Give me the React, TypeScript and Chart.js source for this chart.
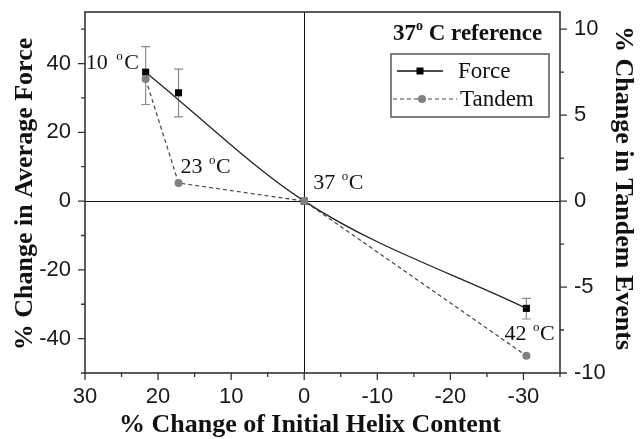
import React, { useEffect, useRef } from 'react';
import { Chart, registerables } from 'chart.js';

Chart.register(...registerables);

// ---- data ----
const helixChange = [21.7, 17.2, 0, -30.4];          // % change of initial helix content
const forceChange = [37.5, 31.5, 0, -31.2];          // % change in average force (left axis)
const forceErrHigh = [44.9, 38.4, null, -28.3];
const forceErrLow = [28.1, 24.5, null, -34.3];
const tandemChange = [7.1, 1.05, 0, -9.0];           // % change in tandem events (right axis)
const tempLabels = ['10', '23', '37', '42'];
const forceCurveIdx = [0, 2, 3];                     // points the smooth Force curve passes through

const xTicksMajor = [30, 20, 10, 0, -10, -20, -30];
const xTicksMinor = [25, 15, 5, -5, -15, -25, -35];
const yTicksMajor = [40, 20, 0, -20, -40];
const yTicksMinor = [50, 30, 10, -10, -30, -50];
const y2TicksMajor = [10, 5, 0, -5, -10];
const y2TicksMinor = [7.5, 2.5, -2.5, -7.5];

const SERIF = '"Liberation Serif", "Times New Roman", serif';
const SANS = '"Liberation Sans", Arial, sans-serif';

function drawDegText(
  ctx: CanvasRenderingContext2D, pre: string, post: string,
  x: number, y: number, size: number, bold: boolean, gap = 0
) {
  const w = bold ? 'bold ' : '';
  ctx.font = `${w}${size}px ${SERIF}`;
  ctx.textAlign = 'left';
  ctx.textBaseline = 'alphabetic';
  ctx.fillText(pre, x, y);
  let cx = x + ctx.measureText(pre).width + gap;
  ctx.font = `${w}${Math.round(size * 0.6)}px ${SERIF}`;
  ctx.fillText('o', cx, y - size * 0.42);
  cx += ctx.measureText('o').width + gap * 0.5;
  ctx.font = `${w}${size}px ${SERIF}`;
  ctx.fillText(post, cx, y);
}

const overlayPlugin = {
  id: 'overlay',
  beforeDatasetsDraw(chart: any) {
    const { ctx, chartArea: a, scales } = chart;
    const xs = scales.x, ys = scales.y;
    ctx.save();
    ctx.strokeStyle = '#111';
    ctx.lineWidth = 1;
    const x0 = Math.round(xs.getPixelForValue(0)) + 0.5;
    const y0 = Math.round(ys.getPixelForValue(0)) + 0.5;
    ctx.beginPath();
    ctx.moveTo(x0, a.top); ctx.lineTo(x0, a.bottom);
    ctx.moveTo(a.left, y0); ctx.lineTo(a.right, y0);
    ctx.stroke();
    ctx.strokeStyle = '#8a8a8a';
    ctx.lineWidth = 1.2;
    for (let i = 0; i < helixChange.length; i++) {
      const hi = forceErrHigh[i], lo = forceErrLow[i];
      if (hi == null || lo == null) continue;
      const px = xs.getPixelForValue(helixChange[i]);
      const pHi = ys.getPixelForValue(hi), pLo = ys.getPixelForValue(lo);
      ctx.beginPath();
      ctx.moveTo(px, pHi); ctx.lineTo(px, pLo);
      ctx.moveTo(px - 4.5, pHi); ctx.lineTo(px + 4.5, pHi);
      ctx.moveTo(px - 4.5, pLo); ctx.lineTo(px + 4.5, pLo);
      ctx.stroke();
    }
    ctx.restore();
  },
  afterDraw(chart: any) {
    const { ctx, chartArea: a, scales } = chart;
    const xs = scales.x, ys = scales.y, y2 = scales.y2;
    ctx.save();
    ctx.strokeStyle = '#333';
    ctx.lineWidth = 1.6;
    ctx.strokeRect(a.left, a.top, a.right - a.left, a.bottom - a.top);
    ctx.lineWidth = 1.3;
    ctx.beginPath();
    const tick = (x1: number, y1: number, x2: number, y2p: number) => { ctx.moveTo(x1, y1); ctx.lineTo(x2, y2p); };
    xTicksMajor.forEach(v => { const p = xs.getPixelForValue(v); tick(p, a.bottom, p, a.bottom + 7); });
    xTicksMinor.forEach(v => { const p = xs.getPixelForValue(v); tick(p, a.bottom, p, a.bottom + 4); });
    yTicksMajor.forEach(v => { const p = ys.getPixelForValue(v); tick(a.left, p, a.left - 7, p); });
    yTicksMinor.forEach(v => { const p = ys.getPixelForValue(v); tick(a.left, p, a.left - 4, p); });
    y2TicksMajor.forEach(v => { const p = y2.getPixelForValue(v); tick(a.right, p, a.right + 7, p); });
    y2TicksMinor.forEach(v => { const p = y2.getPixelForValue(v); tick(a.right, p, a.right + 4, p); });
    ctx.stroke();

    ctx.fillStyle = '#111';
    ctx.font = `bold 26px ${SERIF}`;
    ctx.textAlign = 'center';
    ctx.textBaseline = 'middle';
    ctx.fillText('% Change of Initial Helix Content', 310, 425);
    ctx.save();
    ctx.translate(25, 194);
    ctx.rotate(-Math.PI / 2);
    ctx.fillText('% Change in Average Force', 0, 0);
    ctx.restore();
    ctx.save();
    ctx.translate(623, 188);
    ctx.rotate(Math.PI / 2);
    ctx.fillText('% Change in Tandem Events', 0, 0);
    ctx.restore();

    const fx = (i: number) => xs.getPixelForValue(helixChange[i]);
    const fy = (i: number) => ys.getPixelForValue(forceChange[i]);
    const ty = (i: number) => y2.getPixelForValue(tandemChange[i]);
    drawDegText(ctx, tempLabels[0] + ' ', 'C', fx(0) - 60, fy(0) - 3, 22, false, 3);
    drawDegText(ctx, tempLabels[1] + ' ', 'C', fx(1) + 2, ty(1) - 10, 22, false, 1);
    drawDegText(ctx, tempLabels[2] + ' ', 'C', fx(2) + 9, fy(2) - 12, 22, false, 1);
    drawDegText(ctx, tempLabels[3] + ' ', 'C', fx(3) - 22, ty(3) - 16, 22, false, 1);

    drawDegText(ctx, '37', ' C reference', 393, 40, 23, true);

    const L = 391, T = 54, R = 549, B = 117;
    ctx.strokeStyle = '#555';
    ctx.lineWidth = 1.5;
    ctx.strokeRect(L, T, R - L, B - T);
    ctx.strokeStyle = '#111';
    ctx.lineWidth = 1.5;
    ctx.beginPath(); ctx.moveTo(397, 71); ctx.lineTo(443, 71); ctx.stroke();
    ctx.fillStyle = '#000';
    ctx.fillRect(420 - 3.5, 71 - 3.5, 7, 7);
    ctx.strokeStyle = '#444';
    ctx.lineWidth = 1.2;
    ctx.setLineDash([4, 3]);
    ctx.beginPath(); ctx.moveTo(393, 99); ctx.lineTo(457, 99); ctx.stroke();
    ctx.setLineDash([]);
    ctx.fillStyle = '#808080';
    ctx.beginPath(); ctx.arc(422, 99, 4, 0, Math.PI * 2); ctx.fill();
    ctx.fillStyle = '#111';
    ctx.font = `23px ${SERIF}`;
    ctx.textAlign = 'left';
    ctx.textBaseline = 'middle';
    ctx.fillText('Force', 458, 72);
    ctx.fillText('Tandem', 460, 100);
    ctx.restore();
  },
};

const noPadV = (w: number) => (s: any) => { s.width = w; s.paddingTop = 0; s.paddingBottom = 0; };
const noPadH = (h: number) => (s: any) => { s.height = h; s.paddingLeft = 0; s.paddingRight = 0; };

export default function App() {
  const ref = useRef<HTMLCanvasElement | null>(null);
  useEffect(() => {
    if (!ref.current) return;
    const forcePts = helixChange.map((x, i) => ({ x, y: forceChange[i] }));
    const curvePts = forceCurveIdx.map(i => ({ x: helixChange[i], y: forceChange[i] }));
    const tandemPts = helixChange.map((x, i) => ({ x, y: tandemChange[i] }));
    const tickFont = { family: SANS, size: 22 };
    const chart = new Chart(ref.current, {
      type: 'scatter',
      data: {
        datasets: [
          {
            label: 'Tandem',
            data: tandemPts,
            yAxisID: 'y2',
            showLine: true,
            borderColor: '#444',
            borderWidth: 1.2,
            borderDash: [4, 3],
            pointStyle: 'circle',
            pointRadius: 4,
            pointBackgroundColor: '#808080',
            pointBorderWidth: 0,
            tension: 0,
          } as any,
          {
            label: 'Force curve',
            data: curvePts,
            yAxisID: 'y',
            showLine: true,
            borderColor: '#222',
            borderWidth: 1.3,
            pointRadius: 0,
            cubicInterpolationMode: 'monotone',
          } as any,
          {
            label: 'Force',
            data: forcePts,
            yAxisID: 'y',
            showLine: false,
            pointStyle: 'rect',
            pointRadius: 5,
            pointBackgroundColor: '#000',
            pointBorderWidth: 0,
          } as any,
        ],
      },
      options: {
        animation: false,
        responsive: true,
        maintainAspectRatio: false,
        layout: { padding: { top: 12, left: 0, right: 0, bottom: 0 } },
        plugins: { legend: { display: false }, tooltip: { enabled: false } },
        scales: {
          x: {
            type: 'linear',
            reverse: true,
            min: -35,
            max: 30,
            grid: { display: true, drawOnChartArea: false, drawTicks: false },
            border: { display: false },
            ticks: {
              stepSize: 10,
              includeBounds: false,
              padding: 11,
              color: '#1a1a1a',
              font: tickFont,
              maxRotation: 0,
            },
            afterFit: noPadH(66),
          },
          y: {
            type: 'linear',
            position: 'left',
            min: -50,
            max: 55,
            grid: { display: true, drawOnChartArea: false, drawTicks: false },
            border: { display: false },
            ticks: {
              stepSize: 20,
              includeBounds: false,
              padding: 14,
              color: '#1a1a1a',
              font: tickFont,
            },
            afterFit: noPadV(85),
          },
          y2: {
            type: 'linear',
            position: 'right',
            min: -10,
            max: 11,
            grid: { display: true, drawOnChartArea: false, drawTicks: false },
            border: { display: false },
            ticks: {
              stepSize: 5,
              includeBounds: false,
              padding: 14,
              color: '#1a1a1a',
              font: tickFont,
            },
            afterFit: noPadV(82),
          },
        },
      } as any,
      plugins: [overlayPlugin],
    });
    return () => chart.destroy();
  }, []);

  return (
    <div style={{ position: 'fixed', left: 0, top: 0, width: 642, height: 439, background: '#fff' }}>
      <canvas ref={ref} />
    </div>
  );
}
